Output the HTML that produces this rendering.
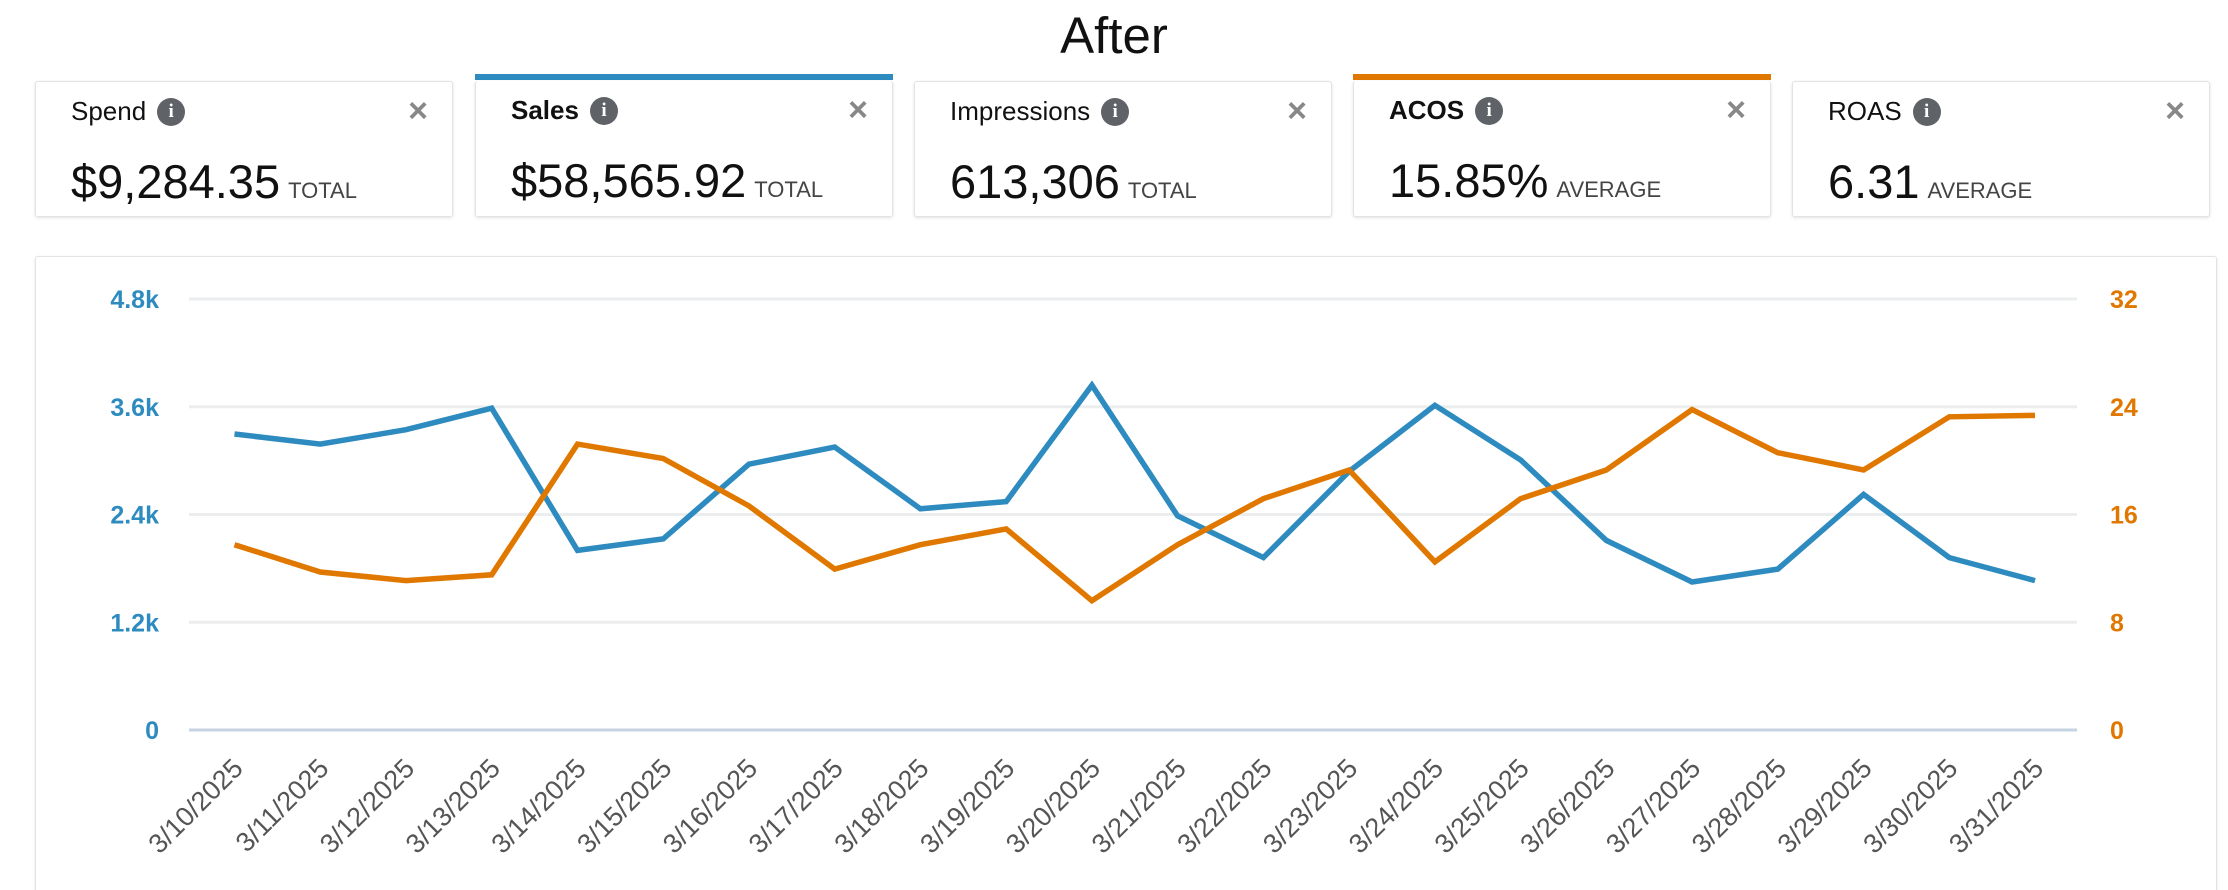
<!DOCTYPE html>
<html><head><meta charset="utf-8"><style>
*{margin:0;padding:0;box-sizing:border-box}
html{width:2228px;height:890px;overflow:hidden}
body{width:2228px;height:890px;background:#fff;position:relative;overflow:hidden;font-family:"Liberation Sans",Arial,sans-serif;color:#111}
.title{position:absolute;left:0;width:2228px;top:6px;text-align:center;font-size:51px;color:#111}
.card{position:absolute;top:81px;width:418px;height:136px;background:#fff;border:1px solid #e3e3e3;border-radius:3px;box-shadow:0 1px 3px rgba(0,0,0,.12)}
.card.top{border-top:none}
.bar{position:absolute;top:74px;width:418px;height:6px}
.lab{position:absolute;left:35px;top:14px;font-size:26px;display:flex;align-items:center}
.lab b{font-weight:bold}
.info{display:inline-block;width:28px;height:28px;border-radius:50%;background:#5f6368;color:#fff;font-size:19px;font-weight:bold;text-align:center;line-height:28px;margin-left:11px;font-family:"Liberation Serif",serif}
.x{position:absolute;right:24px;top:10px;font-size:34px;color:#888;font-weight:bold}
.val{position:absolute;left:35px;top:72px;font-size:47px;white-space:nowrap}
.val span{font-size:22px;color:#444;margin-left:8px}
.panel{position:absolute;left:35px;top:256px;width:2182px;height:640px;border:1px solid #e3e3e3;border-radius:3px;box-shadow:0 1px 3px rgba(0,0,0,.1)}
</style></head><body>
<div class="title">After</div>

<div class="card" style="left:35px"><div class="lab">Spend<span class="info">i</span></div><div class="x">×</div><div class="val">$9,284.35<span>TOTAL</span></div></div>
<div class="bar" style="left:475px;background:#2e8bc0"></div>
<div class="card top" style="left:475px"><div class="lab"><b>Sales</b><span class="info">i</span></div><div class="x">×</div><div class="val">$58,565.92<span>TOTAL</span></div></div>
<div class="card" style="left:914px"><div class="lab">Impressions<span class="info">i</span></div><div class="x">×</div><div class="val">613,306<span>TOTAL</span></div></div>
<div class="bar" style="left:1353px;background:#e07800"></div>
<div class="card top" style="left:1353px"><div class="lab"><b>ACOS</b><span class="info">i</span></div><div class="x">×</div><div class="val">15.85%<span>AVERAGE</span></div></div>
<div class="card" style="left:1792px"><div class="lab">ROAS<span class="info">i</span></div><div class="x">×</div><div class="val">6.31<span>AVERAGE</span></div></div>

<div class="panel"></div>
<svg id="c" width="2228" height="890" style="position:absolute;left:0;top:0" font-family="Liberation Sans, Arial, sans-serif"></svg>
<script>
var s='';
var gy=[299,406.75,514.5,622.25,730];
var ll=['4.8k','3.6k','2.4k','1.2k','0'],rl=['32','24','16','8','0'];
for(var i=0;i<5;i++){
 s+='<line x1="189" x2="2077" y1="'+gy[i]+'" y2="'+gy[i]+'" stroke="'+(i==4?'#c5d3e3':'#ebedef')+'" stroke-width="3"/>';
 s+='<text x="159" y="'+(gy[i]+9)+'" text-anchor="end" font-size="25" font-weight="bold" fill="#2e8bc0">'+ll[i]+'</text>';
 s+='<text x="2110" y="'+(gy[i]+9)+'" font-size="25" font-weight="bold" fill="#e07800">'+rl[i]+'</text>';
}
var b=[304,311,301,286,385,377,325,313,356,351,270,361,390,330,284,322,378,407,398,346,390,406];
var o=[381,400,406,402,311,321,354,398,381,370,420,381,349,329,393,349,329,287,317,329,292,291];
function py(v){return 299+(v-210)*431/300;}
function px(i){return 234.5+i*85.74;}
function pl(a,c){var p=a.map(function(v,i){return px(i).toFixed(1)+','+py(v).toFixed(1)}).join(' ');return '<polyline points="'+p+'" fill="none" stroke="'+c+'" stroke-width="5.5" stroke-linejoin="miter"/>';}
s+=pl(b,'#2e8bc0')+pl(o,'#e07800');
for(var i=0;i<22;i++){var x=px(i)+10,y=770;
 s+='<text x="'+x+'" y="'+y+'" text-anchor="end" font-size="27" fill="#555" transform="rotate(-45 '+x+' '+y+')">3/'+(10+i)+'/2025</text>';}
document.getElementById('c').innerHTML=s;
</script>
</body></html>
